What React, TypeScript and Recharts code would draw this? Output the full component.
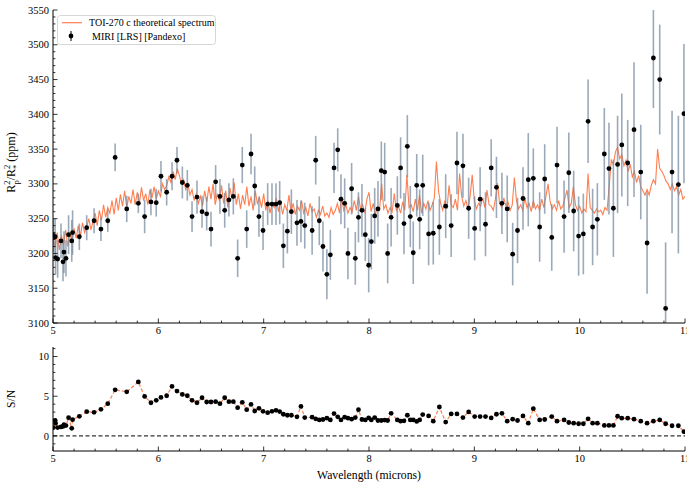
import React from 'react'
import {
  ComposedChart,
  Line,
  Scatter,
  ErrorBar,
  XAxis,
  YAxis,
  CartesianGrid,
  ReferenceLine,
  Label,
} from 'recharts'

// MIRI LRS simulated points (wavelength in microns)
const WAVE = [
  5.003, 5.02, 5.024, 5.044, 5.076, 5.095, 5.104, 5.123, 5.148, 5.178, 5.186,
  5.25, 5.32, 5.39, 5.455, 5.52, 5.59, 5.7, 5.81, 5.87, 5.93, 5.98,
  6.025, 6.079, 6.13, 6.177, 6.228, 6.275, 6.32, 6.367, 6.415, 6.459, 6.5, 6.544, 6.585, 6.63,
  6.67, 6.712, 6.753, 6.797, 6.839, 6.88, 6.915, 6.955, 6.994,
  7.038, 7.079, 7.117, 7.152, 7.187, 7.225, 7.263, 7.316, 7.354, 7.39, 7.46, 7.494, 7.528,
  7.563, 7.6, 7.633, 7.668, 7.703, 7.734, 7.769, 7.8, 7.835, 7.87, 7.9, 7.933, 7.965, 7.997,
  8.022, 8.054, 8.085, 8.117, 8.149, 8.177, 8.21, 8.269, 8.3, 8.332, 8.364, 8.392, 8.42,
  8.453, 8.481, 8.51, 8.566, 8.61, 8.668, 8.728, 8.78, 8.835, 8.892, 8.946,
  9.003, 9.055, 9.106, 9.16, 9.21, 9.262, 9.312, 9.364, 9.41, 9.462, 9.512, 9.56, 9.62,
  9.668, 9.735, 9.785, 9.852, 9.897, 9.943, 9.99,
  10.035, 10.08, 10.123, 10.168, 10.234, 10.278, 10.32, 10.36, 10.4, 10.456, 10.516, 10.58,
  10.64, 10.7, 10.76, 10.816, 10.877, 10.937, 10.99,
]

// transit depth (ppm)
const DEPTH = [
  3226, 3224, 3194, 3192, 3218, 3188, 3202, 3193, 3227, 3218, 3230,
  3224, 3237, 3247, 3235, 3247, 3338, 3264, 3272, 3253, 3274, 3273,
  3311, 3288, 3311, 3334, 3302, 3298, 3253, 3281, 3260, 3257, 3235, 3303, 3282, 3262,
  3277, 3282, 3193, 3327, 3235, 3343, 3297, 3253, 3233,
  3271, 3271, 3271, 3273, 3211, 3232, 3260, 3244, 3246, 3240, 3233, 3334, 3247,
  3210, 3170, 3198, 3323, 3349, 3278, 3272, 3200, 3293, 3193, 3252, 3262, 3227, 3183,
  3217, 3254, 3264, 3319, 3317, 3200, 3252, 3269, 3323, 3243, 3354, 3253, 3201,
  3298, 3249, 3298, 3228, 3229, 3238, 3268, 3240, 3330, 3326, 3265,
  3236, 3278, 3242, 3323, 3295, 3272, 3264, 3199, 3233, 3279, 3306, 3308, 3238,
  3307, 3223, 3327, 3253, 3316, 3261, 3225,
  3228, 3390, 3238, 3249, 3343, 3322, 3265, 3328, 3356, 3330, 3378, 3317,
  3215, 3481, 3450, 3121, 3317, 3299, 3401,
]

// 1-sigma error (ppm)
const DEPTH_ERR = [
  24, 26, 24, 27, 25, 28, 30, 26, 28, 30, 32,
  19, 18, 18, 17, 16, 20, 19, 14, 24, 19, 20,
  22, 19, 20, 19, 23, 22, 22, 24, 23, 24, 25, 24, 25, 25,
  24, 26, 27, 26, 27, 29, 28, 29, 28,
  30, 30, 30, 31, 32, 32, 32, 33, 30, 33, 35, 35, 35,
  36, 36, 36, 36, 31, 36, 36, 37, 37, 38, 36, 38, 38, 39,
  40, 40, 40, 42, 42, 43, 42, 42, 44, 44, 45, 44, 45,
  45, 43, 44, 45, 45, 40, 46, 45, 45, 46, 44,
  46, 46, 46, 41, 44, 44, 48, 45, 47, 45, 67, 43, 50,
  50, 48, 55, 52, 58, 58, 57,
  58, 60, 55, 52, 66, 66, 70, 70, 74, 62, 97, 68,
  73, 72, 79, 95, 88, 99, 100,
]

// signal-to-noise per point
const SNR = [
  1.05, 1.97, 1.6, 1.05, 1.13, 1.2, 1.42, 1.3, 2.3, 0.96, 2.05,
  2.47, 3.05, 2.97, 3.35, 4.06, 5.8, 5.56, 6.8, 4.98, 4.18, 4.48,
  4.85, 5.06, 6.23, 5.65, 5.23, 5.06, 4.48, 4.18, 4.81, 4.27, 4.27, 4.31, 4.06, 4.81,
  4.31, 4.31, 3.56, 4.23, 3.3, 3.97, 3.14, 3.47, 3.1,
  2.93, 3.1, 3.22, 3.06, 2.73, 2.6, 2.6, 2.4, 3.72, 2.31, 2.36, 2.15, 2.02,
  2.07, 2.23, 2.02, 2.81, 2.4, 2.02, 2.36, 2.23, 2.11, 2.31, 3.3, 2.07, 2.02, 2.27,
  2.02, 2.31, 1.94, 1.94, 2.0, 1.94, 2.85, 2.02, 1.86, 1.9, 2.6, 2.02, 2.02,
  1.82, 2.02, 2.69, 2.52, 1.86, 3.64, 1.74, 2.77, 2.77, 2.31, 3.02,
  2.44, 2.44, 2.44, 2.27, 2.73, 2.85, 1.86, 2.11, 1.94, 2.52, 1.61, 3.43, 2.02,
  2.07, 2.44, 1.86, 2.02, 1.69, 1.61, 1.53,
  1.53, 2.15, 1.61, 1.61, 1.32, 1.32, 1.32, 2.48, 2.23, 2.23, 2.11, 1.86,
  1.61, 1.86, 2.02, 1.53, 1.28, 1.28, 0.54,
]

// theoretical spectrum, sampled every 0.02 micron from 5.00 to 11.00
const MODEL_START = 5.0
const MODEL_STEP = 0.02
const MODEL_DEPTH = [
  3222, 3208, 3230, 3205, 3226, 3212, 3234, 3210, 3228, 3218,
  3236, 3222, 3240, 3225, 3244, 3230, 3238, 3250, 3234, 3246,
  3258, 3240, 3262, 3248, 3270, 3252, 3266, 3258, 3276, 3256,
  3280, 3262, 3285, 3268, 3290, 3266, 3282, 3272, 3292, 3270,
  3288, 3272, 3295, 3276, 3286, 3270, 3292, 3280, 3296, 3278,
  3290, 3282, 3300, 3292, 3298, 3310, 3302, 3318, 3306, 3322,
  3312, 3300, 3306, 3292, 3300, 3284, 3292, 3276, 3286, 3272,
  3282, 3268, 3290, 3274, 3296, 3278, 3300, 3270, 3286, 3276,
  3298, 3272, 3290, 3266, 3294, 3278, 3302, 3270, 3286, 3264,
  3284, 3270, 3296, 3268, 3282, 3262, 3290, 3272, 3280, 3266,
  3286, 3262, 3276, 3258, 3272, 3266, 3280, 3260, 3274, 3256,
  3270, 3262, 3284, 3260, 3272, 3256, 3268, 3262, 3276, 3258,
  3266, 3254, 3272, 3260, 3264, 3252, 3262, 3256, 3268, 3254,
  3258, 3252, 3266, 3256, 3262, 3272, 3258, 3282, 3262, 3270,
  3258, 3266, 3260, 3276, 3262, 3282, 3264, 3270, 3258, 3278,
  3288, 3260, 3272, 3256, 3266, 3262, 3300, 3264, 3270, 3258,
  3266, 3260, 3286, 3262, 3268, 3258, 3274, 3262, 3313, 3266,
  3270, 3260, 3278, 3262, 3284, 3258, 3272, 3264, 3276, 3262,
  3270, 3280, 3332, 3290, 3272, 3262, 3276, 3264, 3298, 3270,
  3266, 3278, 3262, 3315, 3282, 3268, 3276, 3264, 3282, 3313,
  3276, 3264, 3272, 3268, 3280, 3266, 3291, 3270, 3268, 3262,
  3278, 3301, 3272, 3266, 3280, 3268, 3274, 3262, 3270, 3309,
  3276, 3264, 3270, 3262, 3280, 3266, 3272, 3260, 3276, 3264,
  3270, 3262, 3278, 3266, 3282, 3300, 3274, 3264, 3270, 3262,
  3276, 3264, 3268, 3280, 3291, 3266, 3272, 3296, 3270, 3262,
  3268, 3258, 3264, 3260, 3315, 3266, 3262, 3258, 3264, 3260,
  3262, 3256, 3266, 3262, 3296, 3334, 3328, 3346, 3353, 3336,
  3342, 3326, 3334, 3318, 3328, 3310, 3318, 3302, 3312, 3296,
  3290, 3284, 3292, 3284, 3298, 3306, 3300, 3350, 3322, 3318,
  3312, 3304, 3300, 3292, 3300, 3290, 3296, 3284, 3292, 3278,
  3282,
]

const X_TICKS = [5, 6, 7, 8, 9, 10, 11]
const DEPTH_TICKS = [3100, 3150, 3200, 3250, 3300, 3350, 3400, 3450, 3500, 3550]
const SNR_TICKS = [0, 5, 10]

const FONT = '"Liberation Serif", "Times New Roman", serif'
const W = 687
const MODEL_COLOR = '#ff7f50'

// main panel geometry
const MAIN_H = 345
const MAIN_MARGIN = { top: 10, right: 2, bottom: 0, left: 0 }
const Y_AXIS_W = 53
const MAIN_X_AXIS_H = 22

const points = WAVE.map((x, i) => ({ x, y: DEPTH[i], err: DEPTH_ERR[i] }))
const snrPoints = WAVE.map((x, i) => ({ x, y: SNR[i] }))
const model = MODEL_DEPTH.map((y, i) => ({ x: +(MODEL_START + i * MODEL_STEP).toFixed(2), y }))

function steps(lo: number, hi: number, step: number) {
  const out: number[] = []
  const n = Math.round((hi - lo) / step)
  for (let i = 0; i <= n; i++) out.push(Math.round((lo + i * step) * 1000) / 1000)
  return out
}

const X_ALL = steps(5, 11, 0.2)
const DEPTH_ALL = steps(3100, 3550, 10)
const SNR_ALL = steps(-1, 11, 1)

const near = (list: number[], v: number) => list.some((m) => Math.abs(m - v) < 1e-6)
const MAJOR = 4.5
const MINOR = 2.4
const tickLine = { stroke: '#000', strokeWidth: 0.8 }

// inward ticks, matplotlib style; labels only on major ticks
function BottomTick(p: any) {
  const v = p.payload.value
  const major = near(p.majors, v)
  return (
    <g>
      <line x1={p.x} x2={p.x} y1={p.y} y2={p.y - (major ? MAJOR : MINOR)} {...tickLine} />
      {major && p.showLabel && (
        <text x={p.x} y={p.y + 11.2} textAnchor="middle" fontSize={10.5} fontFamily={FONT} fill="#000">
          {v}
        </text>
      )}
    </g>
  )
}

function TopTick(p: any) {
  const major = near(p.majors, p.payload.value)
  return <line x1={p.x} x2={p.x} y1={p.y} y2={p.y + (major ? MAJOR : MINOR)} {...tickLine} />
}

function LeftTick(p: any) {
  const v = p.payload.value
  const major = near(p.majors, v)
  return (
    <g>
      <line x1={p.x} x2={p.x + (major ? MAJOR : MINOR)} y1={p.y} y2={p.y} {...tickLine} />
      {major && (
        <text x={p.x - 4} y={p.y + 3.6} textAnchor="end" fontSize={10.5} fontFamily={FONT} fill="#000">
          {v}
        </text>
      )}
    </g>
  )
}

function RightTick(p: any) {
  const major = near(p.majors, p.payload.value)
  return <line x1={p.x} x2={p.x - (major ? MAJOR : MINOR)} y1={p.y} y2={p.y} {...tickLine} />
}

const Dot = (p: any) => <circle cx={p.cx} cy={p.cy} r={2.4} fill="#000" />

const axisLine = { stroke: '#000', strokeWidth: 1 }

function DepthLabel({ viewBox }: any) {
  const cx = 15
  const cy = viewBox.y + viewBox.height / 2 - 4
  return (
    <text
      transform={`translate(${cx},${cy}) rotate(-90)`}
      textAnchor="middle"
      fontFamily={FONT}
      fontSize={12}
      fill="#000"
    >
      R
      <tspan fontSize={8.5} dy={-5}>2</tspan>
      <tspan fontSize={8.5} dx={-4.2} dy={8.5}>p</tspan>
      <tspan dy={-3.5}>/R</tspan>
      <tspan fontSize={8.5} dy={-5}>2</tspan>
      <tspan fontSize={8.5} dx={-4.2} dy={8.5}>*</tspan>
      <tspan dy={-3.5}> (ppm)</tspan>
    </text>
  )
}

function SnrLabel({ viewBox }: any) {
  const cx = 15
  const cy = viewBox.y + viewBox.height / 2
  return (
    <text
      transform={`translate(${cx},${cy}) rotate(-90)`}
      textAnchor="middle"
      fontFamily={FONT}
      fontSize={11.7}
      fill="#000"
    >
      S/N
    </text>
  )
}

function Legend() {
  return (
    <svg width={W} height={60} style={{ position: 'absolute', left: 0, top: 0, pointerEvents: 'none' }}>
      <rect x={57.5} y={15.5} width={158} height={29} rx={3} fill="rgba(255,255,255,0.85)" stroke="#d6d6d6" />
      <line x1={62} x2={82} y1={22.7} y2={22.7} stroke={MODEL_COLOR} strokeWidth={1.2} />
      <text x={89} y={26.2} fontFamily={FONT} fontSize={10} fill="#000">
        TOI-270 c theoretical spectrum
      </text>
      <line x1={71} x2={71} y1={31} y2={41} stroke="#000" strokeWidth={1} />
      <circle cx={71} cy={36} r={2.4} fill="#000" />
      <text x={92} y={39.5} fontFamily={FONT} fontSize={10} fill="#000">
        MIRI [LRS] [Pandexo]
      </text>
    </svg>
  )
}

// clip for the error bars: the plot area of the main panel
function PlotClip() {
  const x = MAIN_MARGIN.left + Y_AXIS_W
  const y = MAIN_MARGIN.top
  const w = W - x - MAIN_MARGIN.right
  const h = MAIN_H - y - MAIN_MARGIN.bottom - MAIN_X_AXIS_H
  return (
    <svg width={0} height={0} style={{ position: 'absolute' }}>
      <defs>
        <clipPath id="depth-plot-clip" clipPathUnits="userSpaceOnUse">
          <rect x={x} y={y} width={w} height={h} />
        </clipPath>
      </defs>
    </svg>
  )
}

function majorGrid(values: number[], key: 'xAxis' | 'yAxis') {
  return (props: any) => {
    const axis = props[key]
    if (!axis || typeof axis.scale !== 'function') return []
    return values.map((v) => axis.scale(v))
  }
}

export default function App() {
  return (
    <div style={{ position: 'absolute', left: 0, top: 0, width: W, height: 483, background: '#fff' }}>
      <style>{`.depth-panel .recharts-errorBar, .depth-panel .recharts-errorBars { clip-path: url(#depth-plot-clip); }`}</style>
      <PlotClip />
      <div className="depth-panel" style={{ position: 'absolute', left: 0, top: 0 }}>
        <ComposedChart width={W} height={MAIN_H} margin={MAIN_MARGIN}>
          <CartesianGrid
            stroke="#b9b9b9"
            strokeWidth={0.8}
            verticalCoordinatesGenerator={majorGrid(X_TICKS, 'xAxis')}
            horizontalCoordinatesGenerator={majorGrid(DEPTH_TICKS, 'yAxis')}
          />
          <XAxis
            dataKey="x"
            type="number"
            domain={[5, 11]}
            ticks={X_ALL}
            interval={0}
            allowDataOverflow
            height={MAIN_X_AXIS_H}
            tickSize={0}
            tickMargin={0}
            axisLine={axisLine}
            tickLine={false}
            tick={<BottomTick majors={X_TICKS} showLabel />}
          />
          <XAxis
            xAxisId="top"
            orientation="top"
            type="number"
            domain={[5, 11]}
            ticks={X_ALL}
            interval={0}
            allowDataOverflow
            height={0}
            tickSize={0}
            tickMargin={0}
            axisLine={axisLine}
            tickLine={false}
            tick={<TopTick majors={X_TICKS} />}
          />
          <YAxis
            dataKey="y"
            type="number"
            domain={[3100, 3550]}
            ticks={DEPTH_ALL}
            interval={0}
            allowDataOverflow
            width={Y_AXIS_W}
            tickSize={0}
            tickMargin={0}
            axisLine={axisLine}
            tickLine={false}
            tick={<LeftTick majors={DEPTH_TICKS} />}
          >
            <Label content={<DepthLabel />} />
          </YAxis>
          <YAxis
            yAxisId="right"
            orientation="right"
            type="number"
            domain={[3100, 3550]}
            ticks={DEPTH_ALL}
            interval={0}
            allowDataOverflow
            width={0}
            tickSize={0}
            tickMargin={0}
            axisLine={axisLine}
            tickLine={false}
            tick={<RightTick majors={DEPTH_TICKS} />}
          />
          <Line
            data={model}
            dataKey="y"
            type="linear"
            stroke={MODEL_COLOR}
            strokeWidth={1.1}
            dot={false}
            activeDot={false}
            isAnimationActive={false}
          />
          <Scatter data={points} dataKey="y" shape={Dot} isAnimationActive={false}>
            <ErrorBar
              dataKey="err"
              direction="y"
              width={0}
              stroke="#7a8ca0"
              strokeWidth={1.6}
              strokeOpacity={0.75}
              isAnimationActive={false}
            />
          </Scatter>
        </ComposedChart>
      </div>

      <div style={{ position: 'absolute', left: 0, top: 337 }}>
        <ComposedChart width={W} height={146} margin={{ top: 10, right: 2, bottom: 0, left: 0 }}>
          <CartesianGrid
            stroke="#b9b9b9"
            strokeWidth={0.8}
            verticalCoordinatesGenerator={majorGrid(X_TICKS, 'xAxis')}
            horizontalCoordinatesGenerator={majorGrid(SNR_TICKS, 'yAxis')}
          />
          <XAxis
            dataKey="x"
            type="number"
            domain={[5, 11]}
            ticks={X_ALL}
            interval={0}
            allowDataOverflow
            height={32}
            tickSize={0}
            tickMargin={0}
            axisLine={axisLine}
            tickLine={false}
            tick={<BottomTick majors={X_TICKS} showLabel />}
          >
            <Label
              value="Wavelength (microns)"
              position="insideBottom"
              offset={4}
              style={{ fontFamily: FONT, fontSize: 11.7, fill: '#000' }}
            />
          </XAxis>
          <XAxis
            xAxisId="top"
            orientation="top"
            type="number"
            domain={[5, 11]}
            ticks={X_ALL}
            interval={0}
            allowDataOverflow
            height={0}
            tickSize={0}
            tickMargin={0}
            axisLine={axisLine}
            tickLine={false}
            tick={<TopTick majors={X_TICKS} />}
          />
          <YAxis
            dataKey="y"
            type="number"
            domain={[-1.9, 11.2]}
            ticks={SNR_ALL}
            interval={0}
            allowDataOverflow
            width={Y_AXIS_W}
            tickSize={0}
            tickMargin={0}
            axisLine={axisLine}
            tickLine={false}
            tick={<LeftTick majors={SNR_TICKS} />}
          >
            <Label content={<SnrLabel />} />
          </YAxis>
          <YAxis
            yAxisId="right"
            orientation="right"
            type="number"
            domain={[-1.9, 11.2]}
            ticks={SNR_ALL}
            interval={0}
            allowDataOverflow
            width={0}
            tickSize={0}
            tickMargin={0}
            axisLine={axisLine}
            tickLine={false}
            tick={<RightTick majors={SNR_TICKS} />}
          />
          <ReferenceLine y={0} stroke="#000" strokeWidth={1} strokeDasharray="4 2.5" />
          <Line
            data={snrPoints}
            dataKey="y"
            type="linear"
            stroke={MODEL_COLOR}
            strokeWidth={1.2}
            strokeDasharray="3.5 2"
            dot={false}
            activeDot={false}
            isAnimationActive={false}
          />
          <Scatter data={snrPoints} dataKey="y" shape={Dot} isAnimationActive={false} />
        </ComposedChart>
      </div>

      <Legend />
    </div>
  )
}
